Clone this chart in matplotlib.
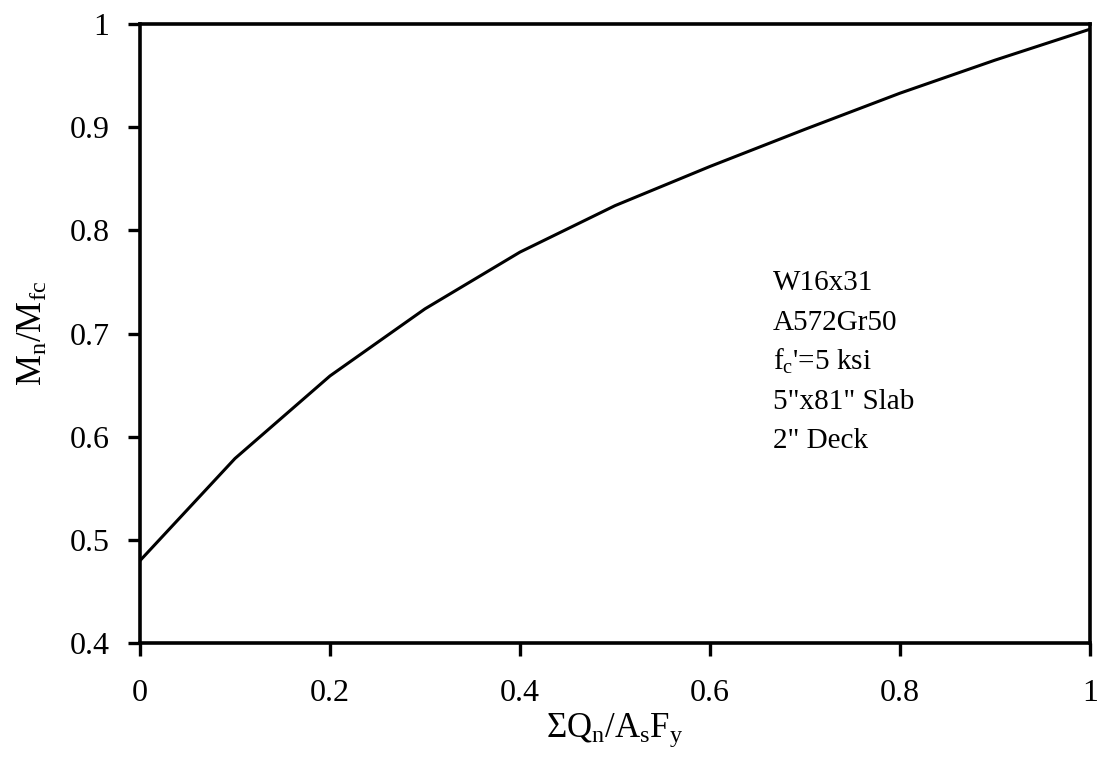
import matplotlib
matplotlib.use('Agg')
import matplotlib.pyplot as plt

# Data
shear_ratio = [0.0, 0.1, 0.2, 0.3, 0.4, 0.5, 0.6, 0.7, 0.8, 0.9, 1.0]
moment_ratio = [0.480, 0.579, 0.659, 0.724, 0.779, 0.824, 0.862, 0.898, 0.933, 0.965, 0.995]

x_ticks = [0, 0.2, 0.4, 0.6, 0.8, 1]
x_tick_labels = ['0', '0.2', '0.4', '0.6', '0.8', '1']
y_ticks = [0.4, 0.5, 0.6, 0.7, 0.8, 0.9, 1.0]
y_tick_labels = ['0.4', '0.5', '0.6', '0.7', '0.8', '0.9', '1']

notes = ['W16x31', 'A572Gr50', "f$_\\mathregular{c}$'=5 ksi", '5"x81" Slab', '2" Deck']

plt.rcParams['font.family'] = ['Liberation Serif', 'DejaVu Serif']
plt.rcParams['mathtext.fontset'] = 'custom'
plt.rcParams['mathtext.rm'] = 'Liberation Serif'
plt.rcParams['mathtext.it'] = 'Liberation Serif:italic'

fig = plt.figure(figsize=(10.98, 7.63), dpi=100)
ax = fig.add_axes([0.1275, 0.157, 0.8652, 0.8115])

ax.plot(shear_ratio, moment_ratio, color='black', linewidth=2.2, solid_joinstyle='miter')

ax.set_xlim(0, 1)
ax.set_ylim(0.4, 1)
ax.set_xticks(x_ticks)
ax.set_xticklabels(x_tick_labels)
ax.set_yticks(y_ticks)
ax.set_yticklabels(y_tick_labels)

for sp in ax.spines.values():
    sp.set_linewidth(2.6)

ax.tick_params(axis='x', direction='out', length=9, width=2.4, pad=17, labelsize=23)
ax.tick_params(axis='y', direction='out', length=9, width=2.4, pad=13, labelsize=23)

ax.set_xlabel('$\\Sigma$Q$_\\mathregular{n}$/A$_\\mathregular{s}$F$_\\mathregular{y}$', fontsize=25, labelpad=2)
ax.set_ylabel('M$_\\mathregular{n}$/M$_\\mathregular{fc}$', fontsize=25, labelpad=14)

# annotation block with the section properties
note_y = [0.570, 0.506, 0.442, 0.378, 0.315]
for txt, yy in zip(notes, note_y):
    ax.text(0.666, yy, txt, transform=ax.transAxes, fontsize=21, ha='left', va='baseline')

plt.savefig('out.png', dpi=100)
